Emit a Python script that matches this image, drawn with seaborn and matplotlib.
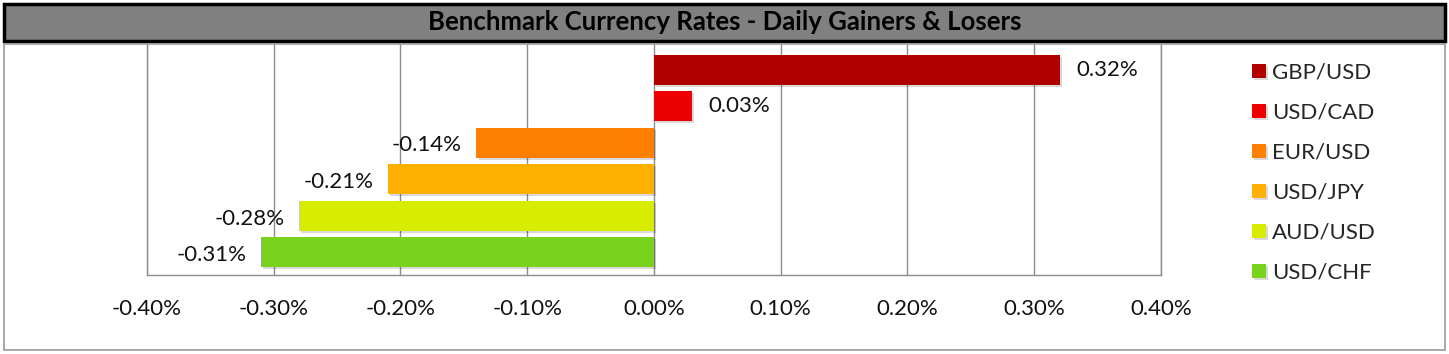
import numpy as np
import pandas as pd
import seaborn as sns
import matplotlib.pyplot as plt
import matplotlib.patheffects as pe
from matplotlib.patches import Rectangle
from matplotlib.ticker import FuncFormatter

# 데이터
pairs = ['GBP/USD', 'USD/CAD', 'EUR/USD', 'USD/JPY', 'AUD/USD', 'USD/CHF']
changes = [0.32, 0.03, -0.14, -0.21, -0.28, -0.31]
colors = ['#B00000', '#EE0000', '#FF8000', '#FFB000', '#D8EC00', '#78D21E']
xticks = [-0.4, -0.3, -0.2, -0.1, 0.0, 0.1, 0.2, 0.3, 0.4]

df = pd.DataFrame({'pair': pairs, 'change': changes})

sns.set_style('white')
plt.rcParams['font.family'] = ['Lato', 'DejaVu Sans']

fig = plt.figure(figsize=(14.49, 3.54), dpi=100)

# 제목 박스
fig.patches.append(Rectangle((0.003, 0.885), 0.994, 0.105, transform=fig.transFigure,
                             facecolor='#808080', edgecolor='black', lw=2.5))
fig.text(0.5, 0.937, 'Benchmark Currency Rates - Daily Gainers & Losers',
         ha='center', va='center', fontsize=18.5, fontweight='bold', color='black')
# 차트 영역 테두리
fig.patches.append(Rectangle((0.003, 0.01), 0.994, 0.865, transform=fig.transFigure,
                             facecolor='none', edgecolor='#999999', lw=1.2))

ax = fig.add_axes([0.1014, 0.2232, 0.6998, 0.6525])
sns.barplot(data=df, x='change', y='pair', hue='pair', palette=colors,
            orient='h', width=0.82, dodge=False, legend=True, ax=ax, saturation=1,
            edgecolor='none', linewidth=0)

# 막대 그림자
for bar in ax.patches:
    bar.set_path_effects([pe.SimplePatchShadow(offset=(1.5, -1.5), shadow_rgbFace='#000000', alpha=0.15),
                          pe.Normal()])

ax.set_xlim(-0.4, 0.4)
ax.set_ylim(5.62, -0.7)
ax.set_xticks(xticks)
ax.xaxis.set_major_formatter(FuncFormatter(lambda v, p: f'{v:.2f}%'))
ax.tick_params(axis='x', length=0, pad=17, labelsize=16, colors='#111111')
ax.set_yticks([])
ax.set_xlabel('')
ax.set_ylabel('')
ax.grid(axis='x', color='#8c8c8c', lw=1)
ax.set_axisbelow(True)
for s in ['left', 'right', 'bottom']:
    ax.spines[s].set_color('#8c8c8c')
    ax.spines[s].set_linewidth(1)
ax.spines['top'].set_visible(False)

# 값 라벨
for i, v in enumerate(changes):
    if v >= 0:
        ax.annotate(f'{v:.2f}%', (v, i), xytext=(12, 0), textcoords='offset points',
                    ha='left', va='center', fontsize=16, color='#111111')
    else:
        ax.annotate(f'{v:.2f}%', (v, i), xytext=(-10.5, -2), textcoords='offset points',
                    ha='right', va='center', fontsize=16, color='#111111')

# 범례
handles, labels = ax.get_legend_handles_labels()
ax.legend(handles, labels, loc='upper left', bbox_to_anchor=(1.09, 0.92),
          frameon=False, fontsize=16, handlelength=0.6, handleheight=0.6,
          handletextpad=0.3, labelspacing=0.9, borderpad=0, borderaxespad=0)

fig.savefig('out.png', dpi=100)
